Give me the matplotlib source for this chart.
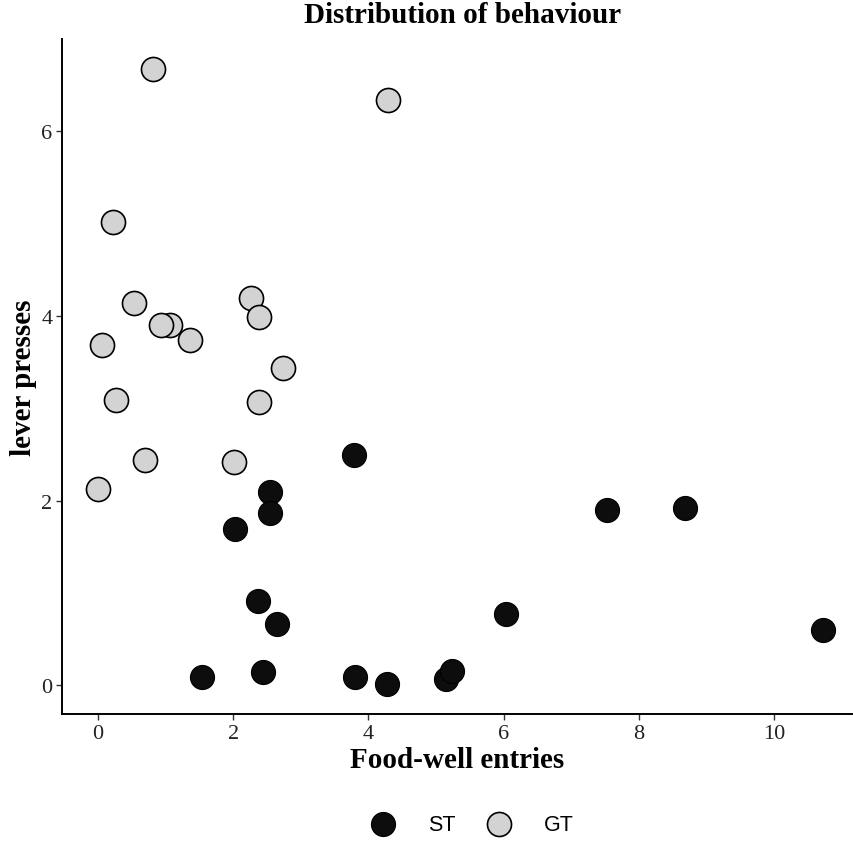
import matplotlib.pyplot as plt
import numpy as np

# food-well entries / lever presses per animal
st_x = [3.79, 2.55, 2.55, 2.03, 7.53, 8.68, 2.37, 2.65, 6.04, 10.72,
        1.54, 2.44, 3.80, 4.28, 5.15, 5.24]
st_y = [2.49, 2.09, 1.87, 1.69, 1.90, 1.92, 0.91, 0.66, 0.77, 0.60,
        0.09, 0.14, 0.09, 0.01, 0.07, 0.16]

gt_x = [0.82, 4.29, 0.23, 0.54, 2.27, 2.38, 1.07, 0.94, 1.36, 0.06,
        2.74, 0.27, 2.38, 0.70, 2.01, 0.0]
gt_y = [6.67, 6.34, 5.02, 4.14, 4.19, 3.99, 3.90, 3.90, 3.74, 3.69,
        3.44, 3.09, 3.07, 2.44, 2.42, 2.13]

serif = ['Liberation Serif', 'DejaVu Serif']
sans = ['Liberation Sans', 'DejaVu Sans']

fig = plt.figure(figsize=(8.54, 8.45), dpi=100)
ax = fig.add_axes([0.0726, 0.1538, 0.925, 0.7989])

ax.scatter(st_x, st_y, s=300, c='#0d0d0d', edgecolors='black', linewidths=0.8,
           label='ST', zorder=3)
ax.scatter(gt_x, gt_y, s=300, c='#d3d3d3', edgecolors='black', linewidths=1.2,
           label='GT', zorder=3)

ax.set_xlim(-0.53, 11.15)
ax.set_ylim(-0.31, 7.0)
ax.set_xticks([0, 2, 4, 6, 8, 10])
ax.set_yticks([0, 2, 4, 6])

for s in ['top', 'right']:
    ax.spines[s].set_visible(False)
for s in ['left', 'bottom']:
    ax.spines[s].set_linewidth(1.4)
ax.tick_params(length=4, width=1.0, color='#333333', labelsize=16, pad=3)
for lab in ax.get_xticklabels() + ax.get_yticklabels():
    lab.set_family(serif)
    lab.set_color('#222222')

ax.set_xlabel('Food-well entries', family=serif, fontweight='bold', fontsize=21, labelpad=2)
fig.text(24 / 854, 0.1538 + 0.7989 / 2, 'lever presses', family=serif, fontweight='bold',
         fontsize=21, rotation=90, ha='center', va='center')
fig.text(0.542, 1 - 23 / 845, 'Distribution of behaviour', family=serif, fontweight='bold',
         fontsize=21, ha='center', va='baseline')

leg = fig.legend(loc='center', bbox_to_anchor=(0.548, 0.023), ncol=2, frameon=False,
                 prop={'family': sans, 'size': 15.5}, handletextpad=1.1, columnspacing=1.0,
                 markerscale=1.0)

fig.savefig('out.png', dpi=100)
